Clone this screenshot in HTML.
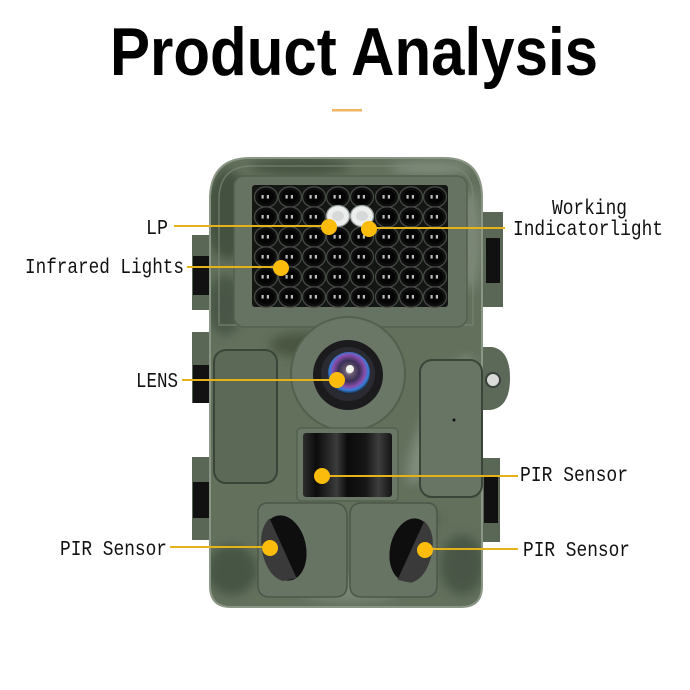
<!DOCTYPE html>
<html>
<head>
<meta charset="utf-8">
<style>
html,body{margin:0;padding:0;background:#fff;}
svg{display:block;}
.lbl{font-family:"Liberation Mono","DejaVu Sans Mono",monospace;font-size:21px;fill:#111;}
</style>
</head>
<body>
<svg width="690" height="690" viewBox="0 0 690 690" xmlns="http://www.w3.org/2000/svg">
<defs>
  <clipPath id="bodyclip">
    <path d="M250 158 H444 Q481 158 482 196 V586 Q482 607 461 607 H231 Q210 607 210 586 V196 Q212 158 250 158 Z"/>
  </clipPath>
  <filter id="blur" x="-20%" y="-20%" width="140%" height="140%"><feGaussianBlur stdDeviation="5"/></filter>
  <radialGradient id="glass" cx="0.5" cy="0.45" r="0.55">
    <stop offset="0" stop-color="#f4f4f0"/>
    <stop offset="0.18" stop-color="#6b5a70"/>
    <stop offset="0.45" stop-color="#3a2f55"/>
    <stop offset="0.7" stop-color="#8a4fb0"/>
    <stop offset="0.85" stop-color="#2f7fd8"/>
    <stop offset="1" stop-color="#1a1a22"/>
  </radialGradient>
  <linearGradient id="cyl" x1="0" y1="0" x2="1" y2="0">
    <stop offset="0" stop-color="#2c2d2c"/>
    <stop offset="0.15" stop-color="#0c0c0c"/>
    <stop offset="0.38" stop-color="#3a3b3a"/>
    <stop offset="0.5" stop-color="#0b0b0b"/>
    <stop offset="0.7" stop-color="#161616"/>
    <stop offset="0.85" stop-color="#3c3d3c"/>
    <stop offset="1" stop-color="#151515"/>
  </linearGradient>
  <g id="led">
    <ellipse rx="11.5" ry="10.2" fill="#0d0e0d" stroke="#454944" stroke-width="1.3"/>
    <ellipse rx="8" ry="7" fill="#040404"/>
    <rect x="-4.5" y="-2" width="2.2" height="3.6" fill="#bdbdbd"/>
    <rect x="0.8" y="-2" width="2.2" height="3.6" fill="#bdbdbd"/>
  </g>
</defs>

<rect width="690" height="690" fill="#fff"/>

<!-- Title -->
<text x="110" y="75" font-family="Liberation Sans, Arial, sans-serif" font-weight="bold" font-size="68" textLength="488" lengthAdjust="spacingAndGlyphs" fill="#000">Product Analysis</text>
<rect x="332" y="109" width="30" height="2.5" fill="#f0b565"/>

<!-- Hinges (behind body) -->
<g>
  <rect x="192" y="235" width="22" height="75" fill="#5a6656"/>
  <rect x="193" y="256" width="19" height="39" fill="#111"/>
  <rect x="192" y="332" width="22" height="71" fill="#5a6656"/>
  <rect x="193" y="365" width="19" height="38" fill="#121212"/>
  <rect x="192" y="457" width="22" height="83" fill="#5a6656"/>
  <rect x="193" y="482" width="19" height="36" fill="#111"/>
  <rect x="480" y="212" width="23" height="95" fill="#5a6656"/>
  <rect x="486" y="238" width="14" height="45" fill="#111"/>
  <rect x="480" y="458" width="20" height="84" fill="#5a6656"/>
  <rect x="484" y="477" width="14" height="46" fill="#111"/>
  <path d="M478 347 H492 Q510 350 510 378 Q510 408 490 410 H478 Z" fill="#5c6858"/>
  <circle cx="493" cy="380" r="7" fill="#d8dbd8" stroke="#3a403a" stroke-width="2"/>
</g>

<!-- Body -->
<path d="M250 158 H444 Q481 158 482 196 V586 Q482 607 461 607 H231 Q210 607 210 586 V196 Q212 158 250 158 Z" fill="#62705c"/>
<g clip-path="url(#bodyclip)">
  <g filter="url(#blur)">
    <ellipse cx="228" cy="215" rx="22" ry="45" fill="#45513f"/>
    <ellipse cx="300" cy="167" rx="50" ry="8" fill="#46523f"/>
    <ellipse cx="430" cy="168" rx="40" ry="7" fill="#7f8a7a"/>
    <ellipse cx="225" cy="305" rx="18" ry="30" fill="#4a5647"/>
    <ellipse cx="470" cy="240" rx="12" ry="50" fill="#7b8676"/>
    <ellipse cx="440" cy="420" rx="16" ry="70" transform="rotate(25 440 420)" fill="#808b7c"/>
    <ellipse cx="240" cy="420" rx="22" ry="40" fill="#4f5b49"/>
    <ellipse cx="232" cy="570" rx="25" ry="25" fill="#475444"/>
    <ellipse cx="462" cy="565" rx="22" ry="30" fill="#4a5647"/>
    <ellipse cx="350" cy="590" rx="50" ry="12" fill="#788474"/>
    <ellipse cx="300" cy="345" rx="30" ry="12" fill="#48543f"/>
    <ellipse cx="400" cy="520" rx="40" ry="10" fill="#4f5c49"/>
  </g>
</g>
<path d="M250 158 H444 Q481 158 482 196 V586 Q482 607 461 607 H231 Q210 607 210 586 V196 Q212 158 250 158 Z" fill="none" stroke="#8a9585" stroke-width="2"/>
<path d="M252 166 H442 Q472 166 473 196 V325 H219 V196 Q221 166 252 166 Z" fill="none" stroke="#7c8877" stroke-width="1.5" opacity="0.7"/>

<!-- Side panels -->
<rect x="214" y="350" width="63" height="133" rx="12" fill="#5c6957" stroke="#3b4439" stroke-width="2"/>
<rect x="420" y="360" width="62" height="137" rx="12" fill="#697564" stroke="#3b4439" stroke-width="2"/>
<circle cx="454" cy="420" r="1.5" fill="#111"/>

<!-- LED frame & panel -->
<rect x="234" y="176" width="233" height="151" rx="10" fill="#677362" stroke="#54604e" stroke-width="1.5"/>
<rect x="252" y="185" width="196" height="122" rx="3" fill="#141614"/>
<g>
  <use href="#led" x="266" y="197"/><use href="#led" x="290" y="197"/><use href="#led" x="314" y="197"/><use href="#led" x="338" y="197"/><use href="#led" x="362" y="197"/><use href="#led" x="387" y="197"/><use href="#led" x="411" y="197"/><use href="#led" x="435" y="197"/>
  <use href="#led" x="266" y="217"/><use href="#led" x="290" y="217"/><use href="#led" x="314" y="217"/><use href="#led" x="387" y="217"/><use href="#led" x="411" y="217"/><use href="#led" x="435" y="217"/>
  <use href="#led" x="266" y="237"/><use href="#led" x="290" y="237"/><use href="#led" x="314" y="237"/><use href="#led" x="338" y="237"/><use href="#led" x="362" y="237"/><use href="#led" x="387" y="237"/><use href="#led" x="411" y="237"/><use href="#led" x="435" y="237"/>
  <use href="#led" x="266" y="257"/><use href="#led" x="290" y="257"/><use href="#led" x="314" y="257"/><use href="#led" x="338" y="257"/><use href="#led" x="362" y="257"/><use href="#led" x="387" y="257"/><use href="#led" x="411" y="257"/><use href="#led" x="435" y="257"/>
  <use href="#led" x="266" y="277"/><use href="#led" x="290" y="277"/><use href="#led" x="314" y="277"/><use href="#led" x="338" y="277"/><use href="#led" x="362" y="277"/><use href="#led" x="387" y="277"/><use href="#led" x="411" y="277"/><use href="#led" x="435" y="277"/>
  <use href="#led" x="266" y="297"/><use href="#led" x="290" y="297"/><use href="#led" x="314" y="297"/><use href="#led" x="338" y="297"/><use href="#led" x="362" y="297"/><use href="#led" x="387" y="297"/><use href="#led" x="411" y="297"/><use href="#led" x="435" y="297"/>
</g>
<ellipse cx="338" cy="216" rx="11.5" ry="10.5" fill="#eceeee" stroke="#9aa09c" stroke-width="1.3"/>
<ellipse cx="338" cy="216" rx="6" ry="5" fill="#d6d9d8"/>
<ellipse cx="362" cy="216" rx="11.5" ry="10.5" fill="#eceeee" stroke="#9aa09c" stroke-width="1.3"/>
<ellipse cx="362" cy="216" rx="6" ry="5" fill="#d6d9d8"/>

<!-- Lens housing -->
<circle cx="348" cy="374" r="57" fill="#6b7766" stroke="#54604e" stroke-width="2"/>
<circle cx="348" cy="375" r="35" fill="#1b1b1e"/>
<circle cx="348" cy="374" r="27" fill="#2a2a32"/>
<circle cx="349" cy="373" r="21" fill="url(#glass)"/>
<circle cx="350" cy="369" r="4" fill="#f5f5f0"/>

<!-- Middle PIR -->
<rect x="297" y="428" width="101" height="73" rx="4" fill="#6b7766" stroke="#54604e" stroke-width="1.5"/>
<rect x="303" y="433" width="89" height="64" rx="3" fill="url(#cyl)"/>

<!-- Lower PIR housings -->
<path d="M268 503 H333 Q347 503 347 517 V585 Q347 597 335 597 H270 Q258 597 258 585 V513 Q258 503 268 503 Z" fill="#687463" stroke="#4c5649" stroke-width="1.5"/>
<path d="M362 503 H427 Q437 503 437 513 V585 Q437 597 425 597 H362 Q350 597 350 585 V515 Q350 503 362 503 Z" fill="#687463" stroke="#4c5649" stroke-width="1.5"/>
<g transform="rotate(-12 284 548)">
  <ellipse cx="284" cy="548" rx="22" ry="33" fill="#0e0e0e"/>
  <path d="M276 516 Q262 525 262 548 Q262 572 276 580 L290 580 Z" fill="#3a3a3a"/>
</g>
<g transform="rotate(12 411 550)">
  <ellipse cx="411" cy="550" rx="21" ry="32" fill="#0e0e0e"/>
  <path d="M418 519 Q432 528 432 550 Q432 574 418 582 L404 582 Z" fill="#3a3a3a"/>
</g>

<!-- Connector lines -->
<g stroke="#e6b219" stroke-width="2" fill="none">
  <line x1="174" y1="226" x2="329" y2="226"/>
  <line x1="187" y1="267" x2="281" y2="267"/>
  <line x1="369" y1="228" x2="505" y2="228"/>
  <line x1="182" y1="380" x2="337" y2="380"/>
  <line x1="322" y1="476" x2="518" y2="476"/>
  <line x1="170" y1="547" x2="270" y2="547"/>
  <line x1="425" y1="549" x2="518" y2="549"/>
</g>
<g fill="#fbbc0b">
  <circle cx="329" cy="227" r="8"/>
  <circle cx="369" cy="229" r="8"/>
  <circle cx="281" cy="268" r="8"/>
  <circle cx="337" cy="380" r="8"/>
  <circle cx="322" cy="476" r="8"/>
  <circle cx="270" cy="548" r="8"/>
  <circle cx="425" cy="550" r="8"/>
</g>

<!-- Labels -->
<text class="lbl" x="146" y="234" textLength="22" lengthAdjust="spacingAndGlyphs">LP</text>
<text class="lbl" x="25" y="273" textLength="159" lengthAdjust="spacingAndGlyphs">Infrared Lights</text>
<text class="lbl" x="136" y="387" textLength="42" lengthAdjust="spacingAndGlyphs">LENS</text>
<text class="lbl" x="552" y="214" textLength="75" lengthAdjust="spacingAndGlyphs">Working</text>
<text class="lbl" x="513" y="235" textLength="150" lengthAdjust="spacingAndGlyphs">Indicatorlight</text>
<text class="lbl" x="520" y="481" textLength="108" lengthAdjust="spacingAndGlyphs">PIR Sensor</text>
<text class="lbl" x="60" y="555" textLength="107" lengthAdjust="spacingAndGlyphs">PIR Sensor</text>
<text class="lbl" x="523" y="556" textLength="107" lengthAdjust="spacingAndGlyphs">PIR Sensor</text>
</svg>
</body>
</html>
